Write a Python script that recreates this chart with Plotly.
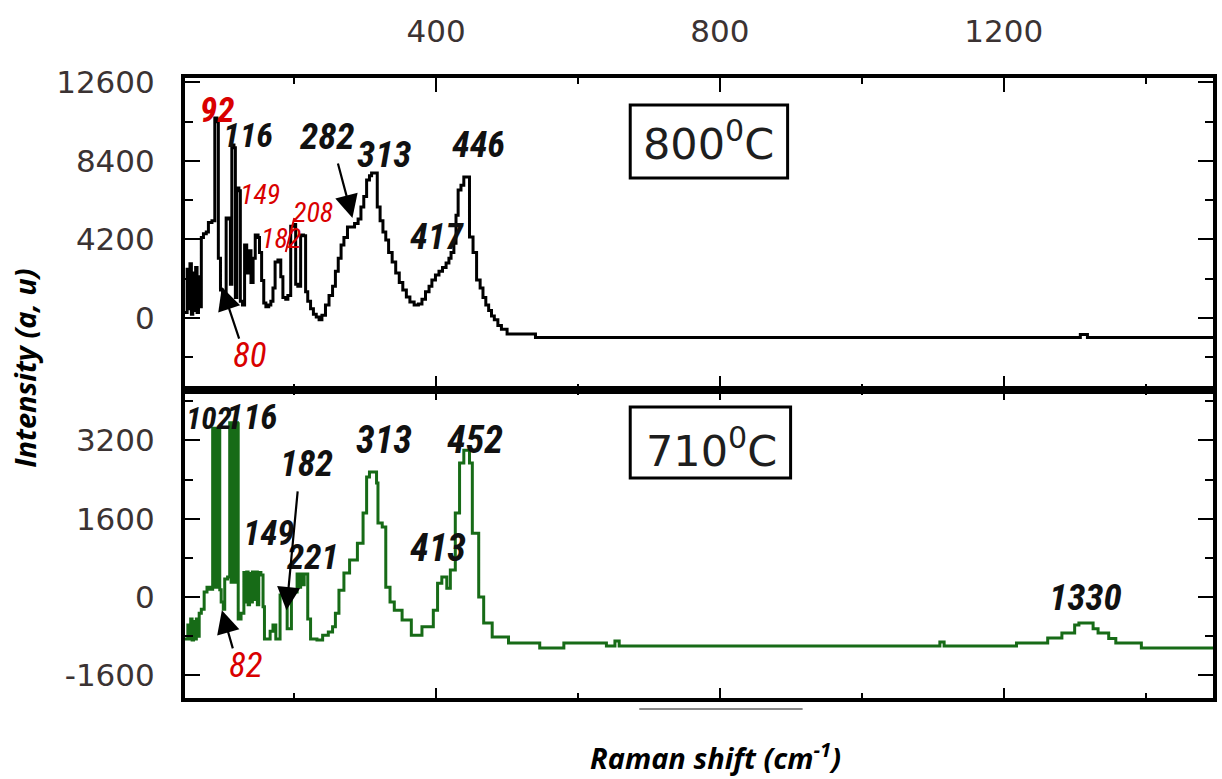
import plotly.graph_objects as go

# ---- spectra (Raman shift in cm-1, intensity in a.u.) ----
top_shift = [46, 49, 51, 53, 55, 57, 59, 61, 63, 65, 67, 69, 72, 76, 79, 84, 88, 91, 93, 96,
             99, 102, 104, 108, 110, 112, 115, 117, 119, 122, 124, 127, 130, 133, 136, 139, 142,
             145, 149, 151, 154, 157, 160, 164, 167, 170, 173, 177, 181, 184, 188, 191, 195, 199,
             202, 205, 209, 213, 216, 219, 223, 227, 231, 235, 239, 244, 249, 254, 258, 262, 266,
             270, 275, 280, 285, 290, 294, 298, 302, 306, 309, 317, 321, 325, 329, 333, 338, 343,
             348, 353, 358, 363, 369, 375, 380, 385, 390, 394, 399, 404, 409, 414, 418, 421, 425,
             428, 431, 435, 439, 447, 452, 457, 462, 466, 470, 474, 478, 482, 487, 492, 500, 540,
             1308, 1318, 1495]
top_int = [300, 2600, 500, 2900, 200, 2400, 400, 2700, 300, 2200, 600, 4300, 4500, 4600, 5100,
           5200, 10700, 10500, 3200, 1500, 1000, 1200, 5350, 5300, 1800, 9250, 9100, 1100, 6950,
           6800, 900, 700, 3900, 2400, 3600, 1900, 3200, 4440, 4300, 3500, 2000, 800, 600, 700,
           900, 1600, 3000, 3100, 2200, 1100, 1000, 1200, 4900, 5000, 1800, 1700, 4440, 4400,
           1400, 900, 500, 200, 50, -100, 150, 700, 1200, 1700, 2500, 3200, 3900, 4300, 4870,
           4870, 5050, 5300, 5940, 6500, 7380, 7600, 7750, 5940, 5200, 4600, 4170, 3500, 3000,
           2400, 1900, 1500, 1120, 850, 700, 750, 1000, 1400, 1700, 2030, 2300, 2500, 2700, 2940,
           3200, 3500, 4000, 5500, 6840, 7100, 7540, 4330, 3500, 2030, 1600, 1100, 700, 400, 100,
           -100, -400, -600, -850, -1040, -880, -1040, -1040]

bot_shift = [46, 50, 52, 54, 56, 58, 60, 62, 64, 66, 69, 73, 77, 81, 85, 87, 89, 91, 93, 95, 97,
             100, 102, 106, 109, 111, 113, 115, 117, 120, 121, 125, 129, 131, 133, 135, 137, 139,
             141, 143, 145, 148, 150, 153, 156, 158, 166, 170, 174, 180, 186, 190, 196, 204, 207,
             209, 212, 214, 219, 223, 232, 240, 248, 254, 258, 263, 270, 278, 289, 297, 302, 306,
             316, 318, 324, 329, 335, 341, 352, 365, 380, 396, 402, 408, 415, 420, 427, 433, 439,
             447, 451, 460, 467, 479, 502, 546, 580, 640, 652, 658, 1110, 1116, 1218, 1262, 1282,
             1300, 1306, 1326, 1333, 1348, 1358, 1394, 1495]
bot_int = [-860, -570, -860, -450, -880, -500, -860, -450, -800, -330, -250, 100, 200, 160, 3450,
           200, 3450, 200, 3450, 150, -100, -250, 370, 410, 3560, 300, 3560, 300, 3560, 3540, -450,
           -330, 500, -100, 510, -160, 480, -100, 510, -50, 510, -160, 500, 450, -200, -860, -700,
           -570, -860, 40, 0, -650, 100, 470, 200, 470, 250, 470, -450, -860, -880, -780, -715,
           -610, -330, 140, 490, 755, 1100, 1715, 2450, 2555, 2330, 1510, 1430, 200, -100, -270,
           -470, -780, -610, -270, 280, 410, 180, 550, 1715, 2740, 3000, 2740, 1300, 0, -530, -820,
           -940, -1040, -940, -1000, -900, -1000, -920, -1000, -940, -840, -735, -570, -530, -650,
           -735, -850, -940, -1040, -1040]

# ---- axis ticks ----
x_tick_vals = [400, 800, 1200]
x_tick_text = ["400", "800", "1200"]
x_minor_vals = [200, 600, 1000, 1400]
top_y_vals = [0, 4200, 8400, 12600]
top_y_text = ["0", "4200", "8400", "12600"]
top_y_minor = [-2100, 2100, 6300, 10500]
bot_y_vals = [-1600, 0, 1600, 3200]
bot_y_text = ["-1600", "0", "1600", "3200"]
bot_y_minor = [-800, 800, 2400, 4000]

# ---- peak labels: (text, shift, intensity, colour, size, weight) ----
RED = "#d90000"
INK = "#111111"
top_labels = [
    ("92", 91, 11070, RED, 35, "bold"),
    ("116", 135, 9790, INK, 34, "bold"),
    ("149", 152, 6580, RED, 28, "normal"),
    ("208", 227, 5615, RED, 28, "normal"),
    ("182", 182, 4225, RED, 28, "normal"),
    ("80", 137, -2030, RED, 35, "normal"),
    ("282", 246, 9680, INK, 37, "bold"),
    ("313", 326, 8770, INK, 37, "bold"),
    ("446", 459, 9250, INK, 36, "bold"),
    ("417", 401, 4330, INK, 36, "bold"),
]
bot_labels = [
    ("102", 80, 3640, INK, 31, "bold"),
    ("116", 140, 3660, INK, 35, "bold"),
    ("182", 217, 2720, INK, 36, "bold"),
    ("149", 164, 1290, INK, 35, "bold"),
    ("221", 226, 800, INK, 35, "bold"),
    ("313", 326, 3210, INK, 38, "bold"),
    ("452", 455, 3210, INK, 38, "bold"),
    ("413", 403, 1000, INK, 38, "bold"),
    ("1330", 1315, -20, INK, 37, "bold"),
    ("82", 132, -1390, RED, 35, "normal"),
]
# arrows: (tail shift, tail intensity, tip shift, tip intensity)
top_arrows = [(261, 8340, 282, 5350), (123, -1180, 98, 1660)]
bot_arrows = [(205, 2190, 189, -270), (114, -1080, 98, -270)]

LABEL_FONT = "Roboto Condensed, DejaVu Sans Condensed, Liberation Sans, sans-serif"
TICK_FONT = dict(family="DejaVu Sans", size=31, color="#3b3333")

fig = go.Figure()
fig.add_trace(go.Scatter(x=top_shift, y=top_int, mode="lines", line_shape="hv",
                         line=dict(color="black", width=3), xaxis="x", yaxis="y",
                         showlegend=False))
fig.add_trace(go.Scatter(x=bot_shift, y=bot_int, mode="lines", line_shape="hv",
                         line=dict(color="#176b17", width=3), xaxis="x2", yaxis="y2",
                         showlegend=False))

axis_common = dict(showline=True, linewidth=4, linecolor="black", mirror="ticks",
                   ticks="inside", tickwidth=2, tickcolor="black", showgrid=False,
                   zeroline=False, tickfont=TICK_FONT)
x_range = [46, 1495]
split = 0.4968

fig.update_layout(
    width=1222, height=779,
    margin=dict(l=185, r=5, t=78, b=81),
    paper_bgcolor="white", plot_bgcolor="white",
    xaxis=dict(domain=[0, 1], anchor="y", range=x_range, side="top",
               tickmode="array", tickvals=x_tick_vals, ticktext=x_tick_text, ticklen=14,
               ticklabelstandoff=20,
               minor=dict(tickmode="array", tickvals=x_minor_vals, ticklen=6, ticks="inside",
                          tickwidth=2, tickcolor="black"),
               **axis_common),
    xaxis2=dict(domain=[0, 1], anchor="y2", range=x_range, showticklabels=False,
                tickmode="array", tickvals=x_tick_vals, ticklen=10,
                minor=dict(tickmode="array", tickvals=x_minor_vals, ticklen=5, ticks="inside",
                           tickwidth=2, tickcolor="black"),
                **axis_common),
    yaxis=dict(domain=[split, 1], anchor="x", range=[-3850, 12834],
               tickmode="array", tickvals=top_y_vals, ticktext=top_y_text, ticklen=15,
               ticklabelstandoff=20,
               minor=dict(tickmode="array", tickvals=top_y_minor, ticklen=8, ticks="inside",
                          tickwidth=2, tickcolor="black"),
               **axis_common),
    yaxis2=dict(domain=[0, split], anchor="x2", range=[-2064, 4230],
                tickmode="array", tickvals=bot_y_vals, ticktext=bot_y_text, ticklen=15,
                ticklabelstandoff=20,
                minor=dict(tickmode="array", tickvals=bot_y_minor, ticklen=8, ticks="inside",
                           tickwidth=2, tickcolor="black"),
                **axis_common),
)

annotations = []
for refs, labels in ((("x", "y"), top_labels), (("x2", "y2"), bot_labels)):
    for text, sx, iy, col, size, weight in labels:
        annotations.append(dict(text=text, x=sx, y=iy, xref=refs[0], yref=refs[1],
                                xanchor="center", yanchor="middle", showarrow=False,
                                font=dict(family=LABEL_FONT, size=size, color=col,
                                          weight=weight, style="italic")))
for refs, arrows in ((("x", "y"), top_arrows), (("x2", "y2"), bot_arrows)):
    for tx, ty, hx, hy in arrows:
        annotations.append(dict(text="", x=hx, y=hy, ax=tx, ay=ty, xref=refs[0],
                                yref=refs[1], axref=refs[0], ayref=refs[1], showarrow=True,
                                arrowhead=2, arrowsize=2.1, arrowwidth=2.2,
                                arrowcolor="black"))

# temperature boxes
box_font = dict(family="DejaVu Sans", size=43, color="#1e1e1e")
annotations.append(dict(text="800<sup>0</sup>C", x=0.5097, y=0.8985, xref="paper",
                        yref="paper", xanchor="center", yanchor="middle", showarrow=False,
                        font=box_font))
annotations.append(dict(text="710<sup>0</sup>C", x=0.5126, y=0.404, xref="paper",
                        yref="paper", xanchor="center", yanchor="middle", showarrow=False,
                        font=box_font))

# axis titles
title_font = dict(family="Open Sans", size=29, color="black", weight="bold", style="italic")
annotations.append(dict(text="Intensity (a, u)", x=-0.156, y=0.532, xref="paper",
                        yref="paper", xanchor="center", yanchor="middle", textangle=-90,
                        showarrow=False, font=title_font))
annotations.append(dict(text="Raman shift (cm<sup>-1</sup>)", x=0.5165, y=-0.0935,
                        xref="paper", yref="paper", xanchor="center", yanchor="middle",
                        showarrow=False, font=title_font))
fig.update_layout(annotations=annotations)

shapes = [
    dict(type="rect", xref="paper", yref="paper", x0=0.4331, x1=0.5862, y0=0.8387,
         y1=0.9565, line=dict(color="black", width=3)),
    dict(type="rect", xref="paper", yref="paper", x0=0.4331, x1=0.5891, y0=0.3548,
         y1=0.4694, line=dict(color="black", width=3)),
    # red tick line beside the 182 label
    dict(type="line", xref="x", yref="y", x0=188, y0=3530, x1=200, y1=5350,
         line=dict(color=RED, width=2)),
    # grey rule under the lower axis
    dict(type="line", xref="paper", yref="paper", x0=0.4419, x1=0.6008, y0=-0.0177,
         y1=-0.0177, line=dict(color="#8a8a8a", width=2)),
]
fig.update_layout(shapes=shapes)

fig.write_html("out.html")
